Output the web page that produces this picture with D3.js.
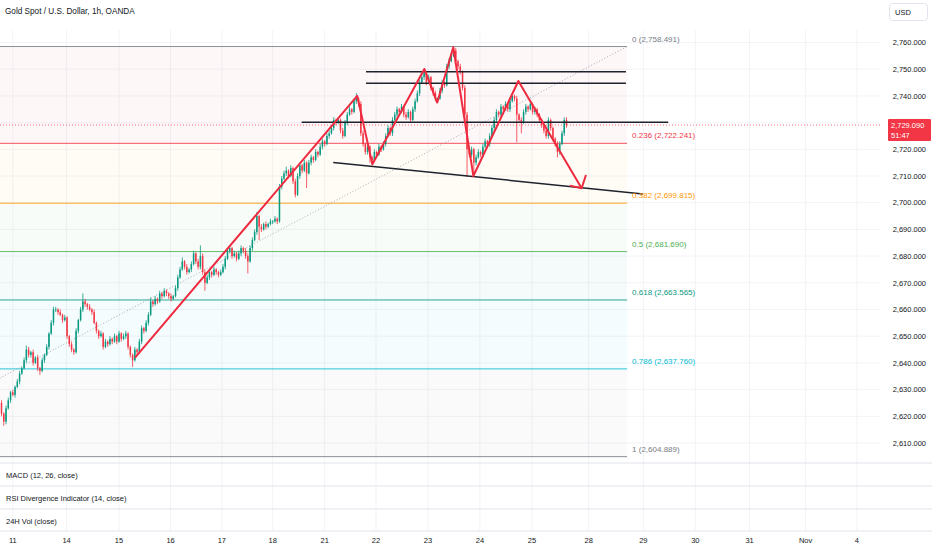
<!DOCTYPE html>
<html><head><meta charset="utf-8">
<script src="https://cdn.jsdelivr.net/npm/d3@7"></script>
<style>
body{margin:0;background:#fff}
svg{display:block}
text{font-family:"Liberation Sans",Arial,sans-serif}
</style>
</head><body>
<svg id="c" width="932" height="550"></svg>
<script>
// ---------- DATA ----------
const title = "Gold Spot / U.S. Dollar, 1h, OANDA";
const firstOpen = 2625;
const closes = [
2621,2618,2623,2626,2629,2628,2631,2633,2636,2638,
2641,2645,2643,2644,2640,2642,2638,2637,2641,2643,
2646,2651,2655,2660,2660,2659,2658,2656,2657,2650,
2647,2645,2644,2652,2656,2660,2663,2662,2661,2660,
2659,2655,2652,2650,2651,2646,2648,2647,2649,2648,
2650,2648,2651,2649,2650,2651,2646,2643,2641,2645,
2644,2648,2653,2652,2655,2658,2663,2662,2664,2663,
2666,2665,2667,2666,2665,2664,2665,2668,2672,2675,
2678,2676,2674,2675,2677,2681,2678,2676,2680,2674,
2670,2672,2674,2673,2675,2674,2673,2674,2676,2679,
2682,2683,2680,2681,2679,2681,2683,2682,2680,2678,
2683,2686,2689,2695,2691,2690,2692,2691,2692,2693,
2693,2694,2693,2706,2709,2711,2712,2710,2713,2708,
2703,2710,2714,2712,2715,2711,2715,2717,2716,2719,
2718,2721,2723,2722,2725,2726,2728,2731,2730,2731,
2727,2725,2730,2733,2735,2734,2738,2739,2737,2726,
2722,2719,2721,2717,2716,2719,2718,2721,2720,2722,
2725,2728,2726,2731,2733,2735,2734,2736,2733,2732,
2734,2731,2735,2738,2741,2745,2747,2748.5,2745,2747,
2743,2741,2739,2739,2742,2745,2744,2751,2753,2755,
2757,2753,2751,2749,2743,2733,2720,2718,2720,2715,
2717,2719,2718,2721,2723,2722,2725,2728,2731,2734,
2733,2736,2735,2737,2735,2738,2740,2739,2733,2731,
2730,2734,2736,2735,2737,2734,2735,2733,2731,2729,
2727,2725,2731,2728,2724,2722,2719,2722,2726,2731,
2729.09];
const wickUp = [
1,0.5,1,1,0.5,1,0.5,1,1,0.5, 1,1.5,1,0.5,1,0.5,1,0.5,1,0.5,
1,0.5,1,1,1,0.5,1,0.5,1,0.5, 0.5,1,0.5,1,0.5,1,3,1,0.5,1,
0.5,1,0.5,0.5,1,0.5,1,0.5,1,0.5, 1,0.5,1,0.5,1,1,0.5,0.5,0.5,1,
0.5,1,1,0.5,1,1,1.5,0.5,1,0.5, 1,0.5,1,0.5,0.5,1,0.5,1,1,1,
1.5,0.5,1,0.5,1,1,0.5,1,4,1, 1,1,0.5,0.5,1,0.5,0.5,1,1,1,
1,1,0.5,1,0.5,1,1,0.5,1,1, 1,1,1,1.5,0.5,1,0.5,1,0.5,1,
0.5,1,0.5,1,1,1,1.5,0.5,1,0.5, 1,1,1,0.5,1,0.5,1,1,0.5,1,
0.5,1,1,0.5,1,1,1,1,0.5,1, 0.5,1,1,1,1,0.5,1,2,0.5,1,
1,0.5,1,0.5,0.5,1,0.5,1,0.5,1, 1,1,0.5,1,1,1,0.5,1,0.5,1,
1,0.5,1,1,1,1,1,1.5,0.5,1, 0.5,0.5,1,0.5,1,1,0.5,1,1,1,
1.5,1,0.5,1,0.5,1,1,1,1,0.5, 1,1,0.5,1,1,0.5,1,1,1,1,
0.5,1,0.5,1,0.5,1,1,0.5,1,0.5, 1,1,1,0.5,1,0.5,1,0.5,0.5,0.5,
0.5,0.5,1,0.5,0.5,0.5,1,1,1,1, 1];
const wickDn = [
1,1.5,1,0.5,1,0.5,1,0.5,1,0.5, 0.5,1,1,1,1,0.5,1,1.5,0.5,1,
0.5,1,0.5,1,1,1,0.5,1,0.5,1, 1,1,1,0.5,1,0.5,1,1,1,0.5,
1,0.5,1,1,0.5,1,0.5,1,0.5,1, 0.5,1,0.5,1,0.5,1,1,1,2.5,0.5,
1,0.5,1,1,0.5,1,0.5,1,0.5,1, 0.5,1,0.5,1,1,1,0.5,0.5,1,0.5,
0.5,1,1,0.5,1,0.5,1,1,1,1, 3,0.5,1,1,0.5,1,1,0.5,0.5,1,
0.5,1,1,0.5,1,0.5,1,1,1,4.5, 0.5,1,0.5,1,5,1,0.5,1,0.5,0.5,
1,0.5,1,0.5,1,0.5,1,1,0.5,1, 1,0.5,1,1,0.5,5.5,0.5,1,1,0.5,
1,0.5,1,1,0.5,1,0.5,1,1,0.5, 1,1,0.5,1,0.5,1,0.5,1,1,1,
1,1,1,2,1.5,0.5,1,0.5,1,0.5, 1,0.5,1,1,0.5,1,1,0.5,1,1,
0.5,1,0.5,1,0.5,1,0.5,1,1,0.5, 1,1,1,1.5,0.5,1,1,0.5,1,0.5,
0.5,1,1,1,1,2,10.4,1,1,4, 1,0.5,1,1,0.5,1,1,0.5,1,1,
1,1,1,0.5,1,1,0.5,1,10.3,1, 4,0.5,1,1,0.5,1,1,1,1,1,
1,1,1,1,1,1,2,1,0.5,1, 1];

const priceTicks = [2610,2620,2630,2640,2650,2660,2670,2680,2690,2700,2710,2720,2730,2740,2750,2760];
const dayLabels = ["11","14","15","16","17","18","21","22","23","24","25","28","29","30","31","Nov","4"];
const dayBars   = [5,28.8,52,74.8,97.5,120,143,165.7,188.7,211.7,234.7,259.8,284,307,331,355.8,378.5];

const fibRatios = [0,0.236,0.382,0.5,0.618,0.786,1];
const fibLow  = {bar:-66.5, price:2604.889};
const fibHigh = {bar:276.8, price:2758.491};

const lastPrice = 2729.09;
const countdown = "51:47";

const zigzag = [[59.1,2642],[157.4,2740],[164.1,2714.4],[187.1,2750.1],[192.8,2737.5],
                [199.9,2758.2],[208.8,2710],[228.7,2745.6],[256.7,2705.4]];
const arrowHead = [[251.5,2706.4],[256.7,2705.4],[258.6,2710.4]];
const levelLines = [[161.3,276.3,2749.0],[161.3,276.3,2744.7],[132.8,295,2730.1]];
const supportLine = [[146.8,2715.1],[283.9,2703.3]];

const paneNames = ["MACD (12, 26, close)","RSI Divergence Indicator (14, close)","24H Vol (close)"];

// ---------- STYLES ----------
const fibColors = ["#787b86","#f23645","#ff9800","#4caf50","#089981","#00bcd4","#787b86"];
const upCol = "#089981", dnCol = "#f23645";

// ---------- DRAW ----------
const svg = d3.select("#c");
const W = 932, H = 550, plotR = 880, paneTop = 30, paneBot = 463;
const x = d3.scaleLinear().domain([0,250]).range([1.5,566.5]);
const y = d3.scaleLinear().domain([2610,2760]).range([443,42.5]);

svg.append("rect").attr("width",W).attr("height",H).attr("fill","#fff");
svg.append("defs").append("clipPath").attr("id","clipMain")
  .append("rect").attr("x",0).attr("y",paneTop).attr("width",plotR).attr("height",paneBot-paneTop);

// grid
const grid = svg.append("g");
grid.selectAll("line.h").data(priceTicks).join("line")
  .attr("x1",0).attr("x2",plotR).attr("y1",d=>y(d)).attr("y2",d=>y(d))
  .attr("stroke","#f2f3f7").attr("stroke-width",1);
grid.selectAll("line.v").data(dayBars).join("line")
  .attr("x1",d=>x(d)).attr("x2",d=>x(d)).attr("y1",paneTop).attr("y2",531)
  .attr("stroke","#f2f3f7").attr("stroke-width",1);

const main = svg.append("g").attr("clip-path","url(#clipMain)");

// fib retracement
const fibPrice = r => fibHigh.price - r*(fibHigh.price - fibLow.price);
const fx0 = x(fibLow.bar), fx1 = x(fibHigh.bar);
const fibG = main.append("g");
for (let k=1;k<fibRatios.length;k++){
  const ya = y(fibPrice(fibRatios[k-1])), yb = y(fibPrice(fibRatios[k]));
  fibG.append("rect").attr("x",fx0).attr("width",fx1-fx0).attr("y",ya).attr("height",yb-ya)
    .attr("fill",fibColors[k]).attr("fill-opacity",0.04);
}
fibG.selectAll("line.f").data(fibRatios).join("line")
  .attr("x1",fx0).attr("x2",fx1).attr("y1",d=>y(fibPrice(d))).attr("y2",d=>y(fibPrice(d)))
  .attr("stroke",(d,i)=>fibColors[i]).attr("stroke-width",1).attr("stroke-opacity",0.85);
fibG.append("line").attr("x1",fx0).attr("y1",y(fibLow.price)).attr("x2",fx1).attr("y2",y(fibHigh.price))
  .attr("stroke","#9598a1").attr("stroke-width",0.8).attr("stroke-dasharray","1,2");

// current price line
main.append("line").attr("x1",0).attr("x2",plotR).attr("y1",y(lastPrice)).attr("y2",y(lastPrice))
  .attr("stroke",dnCol).attr("stroke-width",1).attr("stroke-dasharray","1,2").attr("opacity",0.7);

// candles
const candles = closes.map((c,i)=>{
  const o = i===0 ? firstOpen : closes[i-1];
  return {i,o,c,h:Math.max(o,c)+wickUp[i],l:Math.min(o,c)-wickDn[i]};
});
const cg = main.append("g");
cg.selectAll("line").data(candles).join("line")
  .attr("x1",d=>x(d.i)).attr("x2",d=>x(d.i)).attr("y1",d=>y(d.h)).attr("y2",d=>y(d.l))
  .attr("stroke",d=>d.c>=d.o?upCol:dnCol).attr("stroke-width",0.8);
cg.selectAll("rect").data(candles).join("rect")
  .attr("x",d=>x(d.i)-0.75).attr("width",1.5)
  .attr("y",d=>y(Math.max(d.o,d.c)))
  .attr("height",d=>Math.max(0.8,Math.abs(y(d.o)-y(d.c))))
  .attr("fill",d=>d.c>=d.o?upCol:dnCol);

// drawings
const dg = main.append("g");
dg.selectAll("line.lv").data(levelLines).join("line")
  .attr("x1",d=>x(d[0])).attr("x2",d=>x(d[1])).attr("y1",d=>y(d[2])).attr("y2",d=>y(d[2]))
  .attr("stroke","#1e222d").attr("stroke-width",1.5);
dg.append("line").attr("x1",x(supportLine[0][0])).attr("y1",y(supportLine[0][1]))
  .attr("x2",x(supportLine[1][0])).attr("y2",y(supportLine[1][1]))
  .attr("stroke","#1e222d").attr("stroke-width",1.5);
const ln = d3.line().x(d=>x(d[0])).y(d=>y(d[1]));
dg.append("path").attr("d",ln(zigzag)).attr("fill","none")
  .attr("stroke","#ee2a3f").attr("stroke-width",2).attr("stroke-linejoin","round");
dg.append("path").attr("d",ln(arrowHead)).attr("fill","none")
  .attr("stroke","#ee2a3f").attr("stroke-width",2).attr("stroke-linejoin","round");

// fib labels
svg.append("g").selectAll("text").data(fibRatios).join("text")
  .attr("x",fx1+5).attr("y",d=>y(fibPrice(d))-5)
  .attr("font-size",8).attr("fill",(d,i)=>fibColors[i])
  .text(d=>`${d} (${d3.format(",.3f")(fibPrice(d))})`);

// header
svg.append("text").attr("x",5).attr("y",14).attr("font-size",8.2).attr("fill","#131722").text(title);

// sub panes
const seps = [463,486,509,531];
svg.selectAll("line.sep").data(seps).join("line")
  .attr("x1",0).attr("x2",W).attr("y1",d=>d).attr("y2",d=>d)
  .attr("stroke","#e0e3eb").attr("stroke-width",1);
svg.selectAll("text.pn").data(paneNames).join("text")
  .attr("x",6).attr("y",(d,i)=>seps[i]+15).attr("font-size",7.5).attr("fill","#131722").text(d=>d);

// x axis labels
svg.append("g").selectAll("text").data(dayLabels).join("text")
  .attr("x",(d,i)=>x(dayBars[i])).attr("y",543).attr("text-anchor","middle")
  .attr("font-size",7.5).attr("fill","#131722").text(d=>d);

// right axis (ticks hidden where the live price label sits, as the platform does)
const py = y(lastPrice);
const ax = svg.append("g");
ax.selectAll("text").data(priceTicks.filter(d=>Math.abs(y(d)-(py+5))>14)).join("text")
  .attr("x",926).attr("y",d=>y(d)+2.7).attr("text-anchor","end")
  .attr("font-size",7.5).attr("fill","#131722").text(d=>d3.format(",.3f")(d));
// price label
ax.append("rect").attr("x",888).attr("y",py-6).attr("width",43).attr("height",22).attr("fill",dnCol).attr("rx",1);
ax.append("text").attr("x",891).attr("y",py+2.7).attr("font-size",7.5).attr("fill","#fff").text(d3.format(",.3f")(lastPrice));
ax.append("text").attr("x",891).attr("y",py+12.5).attr("font-size",7.5).attr("fill","#fff").text(countdown);
// USD box
ax.append("rect").attr("x",889.5).attr("y",3.5).attr("width",38).attr("height",17).attr("rx",3)
  .attr("fill","#fff").attr("stroke","#e0e3eb");
ax.append("text").attr("x",895).attr("y",15).attr("font-size",7.5).attr("fill","#131722").text("USD");
</script>
</body></html>
